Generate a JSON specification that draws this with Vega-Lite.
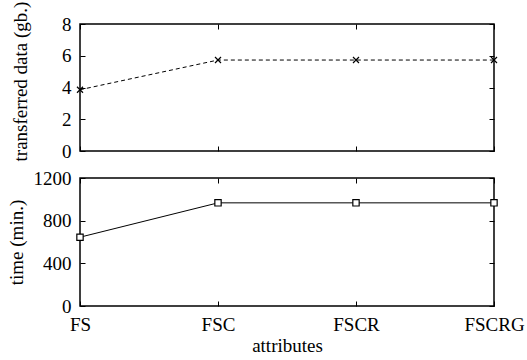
{
  "$schema": "https://vega.github.io/schema/vega-lite/v6.json",
  "padding": {"left": 6, "top": 0, "right": 0, "bottom": 0},
  "background": "white",
  "bounds": "flush",
  "spacing": 27,
  "datasets": {
    "d": [
      {"attr": "FS", "gb": 3.86, "min": 645},
      {"attr": "FSC", "gb": 5.73, "min": 967},
      {"attr": "FSCR", "gb": 5.73, "min": 967},
      {"attr": "FSCRG", "gb": 5.73, "min": 967}
    ]
  },
  "vconcat": [
    {
      "width": 414,
      "height": 127,
      "data": {"name": "d"},
      "layer": [
        {
          "mark": {"type": "line", "color": "black", "strokeWidth": 1, "strokeDash": [4, 3], "point": {"shape": "M-1,-1L1,1M1,-1L-1,1", "filled": false, "stroke": "black", "strokeWidth": 1.2, "size": 36}},
          "encoding": {
            "x": {"field": "attr", "type": "ordinal", "sort": null, "scale": {"type": "point", "padding": 0},
                  "axis": {"orient": "bottom", "labels": false, "title": null}},
            "y": {"field": "gb", "type": "quantitative", "scale": {"domain": [0, 8]},
                  "axis": {"orient": "left", "values": [0, 2, 4, 6, 8], "format": "d", "title": "transferred data (gb.)", "titleX": -60, "titleY": 57, "titleBaseline": "middle"}}
          }
        },
        {
          "mark": {"type": "point", "opacity": 0},
          "encoding": {
            "x": {"field": "attr", "type": "ordinal", "sort": null, "axis": {"orient": "top", "labels": false, "title": null}},
            "y": {"field": "gb", "type": "quantitative", "axis": {"orient": "right", "values": [0, 2, 4, 6, 8], "labels": false, "title": null}}
          }
        }
      ],
      "resolve": {"axis": {"x": "independent", "y": "independent"}}
    },
    {
      "width": 414,
      "height": 128,
      "data": {"name": "d"},
      "layer": [
        {
          "mark": {"type": "line", "color": "black", "strokeWidth": 1, "point": {"shape": "square", "filled": false, "fill": "white", "stroke": "black", "strokeWidth": 1.2, "size": 40}},
          "encoding": {
            "x": {"field": "attr", "type": "ordinal", "sort": null, "scale": {"type": "point", "padding": 0},
                  "axis": {"orient": "bottom", "title": "attributes", "labelAngle": 0, "titlePadding": 2}},
            "y": {"field": "min", "type": "quantitative", "scale": {"domain": [0, 1200]},
                  "axis": {"orient": "left", "values": [0, 400, 800, 1200], "format": "d", "title": "time (min.)", "titleX": -64, "titleBaseline": "middle"}}
          }
        },
        {
          "mark": {"type": "point", "opacity": 0},
          "encoding": {
            "x": {"field": "attr", "type": "ordinal", "sort": null, "axis": {"orient": "top", "labels": false, "title": null}},
            "y": {"field": "min", "type": "quantitative", "axis": {"orient": "right", "values": [0, 400, 800, 1200], "labels": false, "title": null}}
          }
        }
      ],
      "resolve": {"axis": {"x": "independent", "y": "independent"}}
    }
  ],
  "config": {
    "font": "Liberation Serif",
    "view": {"stroke": "black", "strokeWidth": 1.5},
    "axis": {
      "labelFont": "Liberation Serif",
      "titleFont": "Liberation Serif",
      "labelFontSize": 19,
      "titleFontSize": 19,
      "titleFontWeight": "normal",
      "labelColor": "black",
      "titleColor": "black",
      "tickColor": "black",
      "tickWidth": 1,
      "tickSize": -5,
      "labelPadding": 14,
      "domain": false,
      "grid": false
    }
  }
}
